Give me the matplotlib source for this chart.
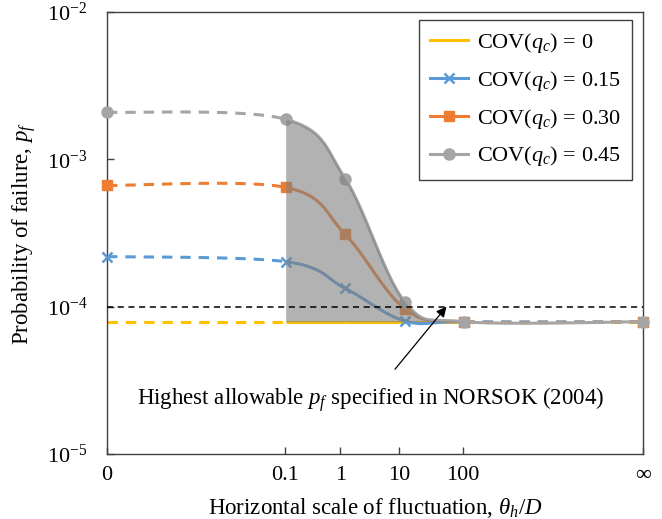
import numpy as np
import matplotlib
matplotlib.use('Agg')
import matplotlib.pyplot as plt
from matplotlib.lines import Line2D
from matplotlib.ticker import FixedLocator, FixedFormatter

plt.rcParams['font.family'] = ['Liberation Serif', 'DejaVu Serif']
plt.rcParams['mathtext.fontset'] = 'custom'
plt.rcParams['mathtext.rm'] = 'Liberation Serif'
plt.rcParams['mathtext.it'] = 'Liberation Serif:italic'
plt.rcParams['mathtext.bf'] = 'Liberation Serif:bold'

# ---------------- data ----------------
x_labels = ['0', '0.1', '1', '10', '100', '∞']
x_values = [0.0, 0.1, 1.0, 10.0, 100.0, np.inf]
cov_labels = ['0', '0.15', '0.30', '0.45']
pf_cov000 = [7.9e-5, 7.9e-5, 7.9e-5, 7.9e-5, 7.9e-5, 7.9e-5]
pf_cov015 = [2.19e-4, 2.02e-4, 1.33e-4, 8.0e-5, 7.9e-5, 7.9e-5]
pf_cov030 = [6.65e-4, 6.45e-4, 3.09e-4, 9.7e-5, 7.9e-5, 7.9e-5]
pf_cov045 = [2.09e-3, 1.87e-3, 7.4e-4, 1.08e-4, 7.9e-5, 7.9e-5]
pf_allowable = 1e-4
y_ticks = [1e-5, 1e-4, 1e-3, 1e-2]
y_ticklabels = ['10$^{-5}$', '10$^{-4}$', '10$^{-3}$', '10$^{-2}$']

# ---------------- style ----------------
colors = ['#FFC000', '#5B9BD5', '#ED7D31', '#A5A5A5']
markers = [None, 'x', 's', 'o']
msizes = [0, 7, 7, 8]
series = [pf_cov000, pf_cov015, pf_cov030, pf_cov045]


def axis_pos(x):
    """Position on the broken horizontal axis: 0 and infinity are placed
    three units away from the log-spaced finite values."""
    if x == 0:
        return 0.0
    if np.isinf(x):
        return 9.0
    return np.log10(x) + 4.0


u = np.array([axis_pos(v) for v in x_values])
tick_pos = [0.0, 2.99, 3.92, 4.90, 5.97, 9.0]

fig = plt.figure(figsize=(6.62, 5.19), dpi=100)
ax = fig.add_axes([107 / 662, 1 - 454 / 519, 536 / 662, 442 / 519])
ax.set_yscale('log')
ax.set_xlim(0, 9)
ax.set_ylim(1e-5, 1e-2)


def smooth_segments(ax, uu, yy, n=80):
    pts = ax.transData.transform(np.column_stack([uu, yy]))
    P = np.vstack([pts[0], pts, pts[-1]])
    t = np.linspace(0, 1, n)[:, None]
    inv = ax.transData.inverted()
    segs = []
    for i in range(len(pts) - 1):
        p0, p1, p2, p3 = P[i], P[i + 1], P[i + 2], P[i + 3]
        c1 = p1 + (p2 - p0) / 6.0
        c2 = p2 - (p3 - p1) / 6.0
        b = ((1 - t) ** 3) * p1 + 3 * ((1 - t) ** 2) * t * c1 \
            + 3 * (1 - t) * (t ** 2) * c2 + (t ** 3) * p2
        segs.append(inv.transform(b))
    return segs


lw = 2.2
dash = (3.4, 2.6)
all_segs = []
for k, (vals, col) in enumerate(zip(series, colors)):
    segs = smooth_segments(ax, u, vals)
    all_segs.append(segs)
    for i, s in enumerate(segs):
        dashed = (i == 0) or (i == len(segs) - 1 and k != 3)
        line, = ax.plot(s[:, 0], s[:, 1], color=col, lw=lw, zorder=2 + 0.1 * k,
                        solid_capstyle='butt')
        if dashed:
            line.set_dashes(dash)
            line.set_dash_capstyle('butt')
    if markers[k] is not None:
        ax.plot(u, vals, linestyle='none', marker=markers[k], ms=msizes[k],
                color=col, mec=col, mew=1.8 if markers[k] == 'x' else 1,
                zorder=2.5 + 0.1 * k, clip_on=False)

# shaded region between COV=0.45 and COV=0 from 0.1 onwards
g = np.vstack(all_segs[3][1:4])
ylow = np.interp(g[:, 0], u, pf_cov000)
ax.fill_between(g[:, 0], ylow, g[:, 1], where=g[:, 1] >= ylow,
                color='#808080', alpha=0.6, lw=0, zorder=3, interpolate=True)

# allowable line
thr, = ax.plot([0, 9], [pf_allowable, pf_allowable], color='black', lw=1.1,
               zorder=4)
thr.set_dashes((4, 3))

# annotation
ax.annotate('Highest allowable $p_f$ specified in NORSOK (2004)',
            xy=(5.70, 1.0e-4), xytext=(4.42, 2.35e-5),
            ha='center', va='center', fontsize=16.5, zorder=5,
            arrowprops=dict(arrowstyle='-|>', color='black', lw=0.9,
                            mutation_scale=15, shrinkA=12, shrinkB=0))

# axes styling
for sp in ax.spines.values():
    sp.set_color('#404040')
    sp.set_linewidth(1.0)
ax.xaxis.set_major_locator(FixedLocator(tick_pos))
ax.xaxis.set_major_formatter(FixedFormatter(x_labels))
ax.yaxis.set_major_locator(FixedLocator(y_ticks))
ax.yaxis.set_major_formatter(FixedFormatter(y_ticklabels))
ax.yaxis.set_minor_locator(FixedLocator([]))
ax.tick_params(axis='both', direction='in', length=5, width=1,
               color='#404040', labelsize=16)
ax.tick_params(axis='x', pad=9)
ax.tick_params(axis='y', pad=14)

ax.set_xlabel('Horizontal scale of fluctuation, $\\theta_h/D$', fontsize=16.5)
ax.xaxis.set_label_coords(0.5, -0.095)
ax.set_ylabel('Probability of failure, $p_f$', fontsize=16.5)
ax.yaxis.set_label_coords(-0.128, 0.5)

# legend
handles = []
for k in range(4):
    handles.append(Line2D([], [], color=colors[k], lw=lw, marker=markers[k],
                          ms=msizes[k] if markers[k] else 0,
                          mew=1.8 if markers[k] == 'x' else 1))
labels = ['COV($q_c$) = ' + c for c in cov_labels]
leg = ax.legend(handles, labels, loc='upper right',
                bbox_to_anchor=(0.9795, 0.982), fontsize=16, fancybox=False,
                framealpha=1, edgecolor='#404040', handlelength=1.7,
                handletextpad=0.4, labelspacing=0.62, borderpad=0.5,
                borderaxespad=0)
leg.get_frame().set_linewidth(1.0)

fig.savefig('out.png', dpi=100)
